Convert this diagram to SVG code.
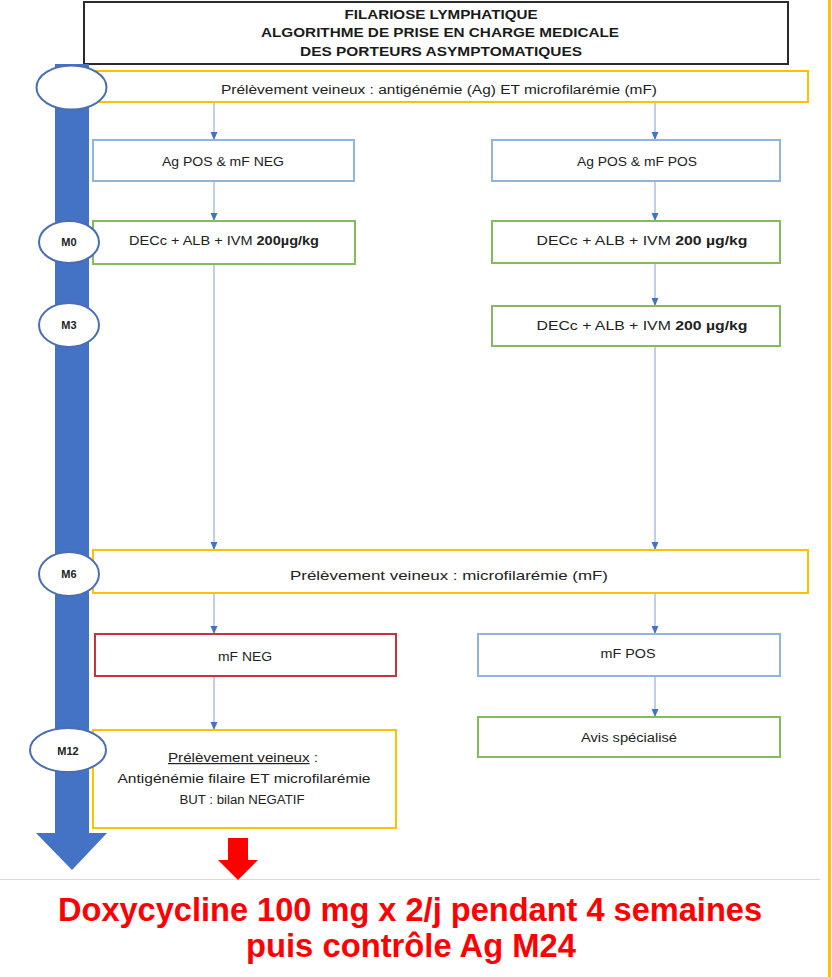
<svg xmlns="http://www.w3.org/2000/svg" width="832" height="977" viewBox="0 0 832 977">
<defs>
<marker id="ah" viewBox="0 0 8 8" refX="8" refY="4" markerWidth="8" markerHeight="8" markerUnits="userSpaceOnUse" orient="auto">
<path d="M0,0.5 L8,4 L0,7.5 Z" fill="#4472c4"/>
</marker>
</defs>
<style>
text{font-family:"Liberation Sans",Arial,sans-serif;fill:#222;text-anchor:middle}
.t{font-weight:bold;font-size:13.5px;fill:#1a1a1a}
.n{font-size:12px}
.b{font-weight:bold}
.lbl{font-size:11px;font-weight:bold}
.yel{fill:#fff;stroke:#ffc000;stroke-width:2}
.blu{fill:#fff;stroke:#8fb4e0;stroke-width:2}
.grn{fill:#fff;stroke:#84bb5d;stroke-width:2}
.red{fill:#fff;stroke:#c8323a;stroke-width:2}
.ell{fill:#fff;stroke:#4a6db5;stroke-width:2}
.con line{stroke:#a7bfe3;stroke-width:1.5;marker-end:url(#ah)}
.rt{font-weight:bold;font-size:34px;fill:#ff0000}
</style>
<rect x="0" y="0" width="832" height="977" fill="#fff"/>
<line x1="829.5" y1="0" x2="829.5" y2="977" stroke="#ffc000" stroke-width="3"/>
<line x1="0" y1="879.5" x2="820" y2="879.5" stroke="#f6cdcd" stroke-width="1.2"/>

<g id="title">
<rect x="84" y="2" width="704" height="62" fill="#fff" stroke="#2b2b2b" stroke-width="2"/>
<text class="t" x="441" y="19" textLength="193" lengthAdjust="spacingAndGlyphs">FILARIOSE LYMPHATIQUE</text>
<text class="t" x="440" y="37" textLength="358" lengthAdjust="spacingAndGlyphs">ALGORITHME DE PRISE EN CHARGE MEDICALE</text>
<text class="t" x="441" y="56" textLength="282" lengthAdjust="spacingAndGlyphs">DES PORTEURS ASYMPTOMATIQUES</text>
</g>

<g id="timeline">
<polygon points="55,64 89,64 89,833 107,833 72,870 36,833 55,833" fill="#4472c4"/>
</g>

<g id="connectors" class="con">
<line x1="214" y1="102" x2="214" y2="140"/>
<line x1="655" y1="102" x2="655" y2="140"/>
<line x1="214" y1="181" x2="214" y2="221"/>
<line x1="655" y1="181" x2="655" y2="221"/>
<line x1="655" y1="263" x2="655" y2="306"/>
<line x1="214" y1="264" x2="214" y2="550"/>
<line x1="655" y1="346" x2="655" y2="550"/>
<line x1="214" y1="593" x2="214" y2="634"/>
<line x1="655" y1="593" x2="655" y2="634"/>
<line x1="655" y1="676" x2="655" y2="717"/>
<line x1="214" y1="676" x2="214" y2="730"/>
</g>

<g id="n-prelev1">
<rect class="yel" x="93" y="71" width="715" height="31"/>
<text class="n" x="439" y="94" textLength="436" lengthAdjust="spacingAndGlyphs">Prélèvement veineux : antigénémie (Ag) ET microfilarémie (mF)</text>
</g>
<g id="e-top"><ellipse class="ell" cx="71.5" cy="87.5" rx="35" ry="22"/></g>

<g id="n-agpos-mfneg">
<rect class="blu" x="93" y="140" width="261" height="41"/>
<text class="n" x="223" y="166" textLength="122" lengthAdjust="spacingAndGlyphs">Ag POS &amp; mF NEG</text>
</g>
<g id="n-agpos-mfpos">
<rect class="blu" x="492" y="140" width="288" height="41"/>
<text class="n" x="637" y="166" textLength="120" lengthAdjust="spacingAndGlyphs">Ag POS &amp; mF POS</text>
</g>

<g id="n-dec-left">
<rect class="grn" x="93" y="221" width="262" height="43"/>
<text class="n" x="224" y="245" textLength="190" lengthAdjust="spacingAndGlyphs">DECc + ALB + IVM <tspan class="b">200µg/kg</tspan></text>
</g>
<g id="n-dec-right">
<rect class="grn" x="492" y="221" width="288" height="42"/>
<text class="n" x="642" y="245" textLength="211" lengthAdjust="spacingAndGlyphs">DECc + ALB + IVM <tspan class="b">200 µg/kg</tspan></text>
</g>
<g id="e-m0"><ellipse class="ell" cx="69" cy="242" rx="30" ry="21"/><text class="lbl" x="69" y="246">M0</text></g>

<g id="n-dec-m3">
<rect class="grn" x="492" y="306" width="288" height="40"/>
<text class="n" x="642" y="330" textLength="211" lengthAdjust="spacingAndGlyphs">DECc + ALB + IVM <tspan class="b">200 µg/kg</tspan></text>
</g>
<g id="e-m3"><ellipse class="ell" cx="69" cy="325" rx="30" ry="22"/><text class="lbl" x="69" y="329">M3</text></g>

<g id="n-prelev-m6">
<rect class="yel" x="93" y="550" width="715" height="43"/>
<text class="n" style="font-size:13.5px" x="449" y="580" textLength="318" lengthAdjust="spacingAndGlyphs">Prélèvement veineux : microfilarémie (mF)</text>
</g>
<g id="e-m6"><ellipse class="ell" cx="69" cy="574" rx="30" ry="22"/><text class="lbl" x="69" y="578">M6</text></g>

<g id="n-mfneg">
<rect class="red" x="95" y="634" width="301" height="42"/>
<text class="n" x="245" y="661" textLength="54" lengthAdjust="spacingAndGlyphs">mF NEG</text>
</g>
<g id="n-mfpos">
<rect class="blu" x="478" y="634" width="302" height="42"/>
<text class="n" x="628" y="658" textLength="55" lengthAdjust="spacingAndGlyphs">mF POS</text>
</g>
<g id="n-avis">
<rect class="grn" x="478" y="717" width="302" height="40"/>
<text class="n" x="629" y="742" textLength="96" lengthAdjust="spacingAndGlyphs">Avis spécialisé</text>
</g>

<g id="n-m12">
<rect class="yel" x="93" y="730" width="303" height="98"/>
<text class="n" x="243" y="762" textLength="150" lengthAdjust="spacingAndGlyphs"><tspan text-decoration="underline">Prélèvement veineux</tspan> :</text>
<text class="n" x="244" y="783" textLength="253" lengthAdjust="spacingAndGlyphs">Antigénémie filaire ET microfilarémie</text>
<text class="n" x="242" y="804" textLength="125" lengthAdjust="spacingAndGlyphs">BUT : bilan NEGATIF</text>
</g>
<g id="e-m12"><ellipse class="ell" cx="68" cy="750" rx="38" ry="22"/><text class="lbl" x="68" y="755">M12</text></g>

<g id="red-arrow">
<polygon points="228,838 248,838 248,860 258,860 238,880 218,860 228,860" fill="#ff0000"/>
</g>

<g id="note">
<text class="rt" x="410" y="921" textLength="704" lengthAdjust="spacingAndGlyphs">Doxycycline 100 mg x 2/j pendant 4 semaines</text>
<text class="rt" x="411" y="957" textLength="330" lengthAdjust="spacingAndGlyphs">puis contrôle Ag M24</text>
</g>
</svg>
